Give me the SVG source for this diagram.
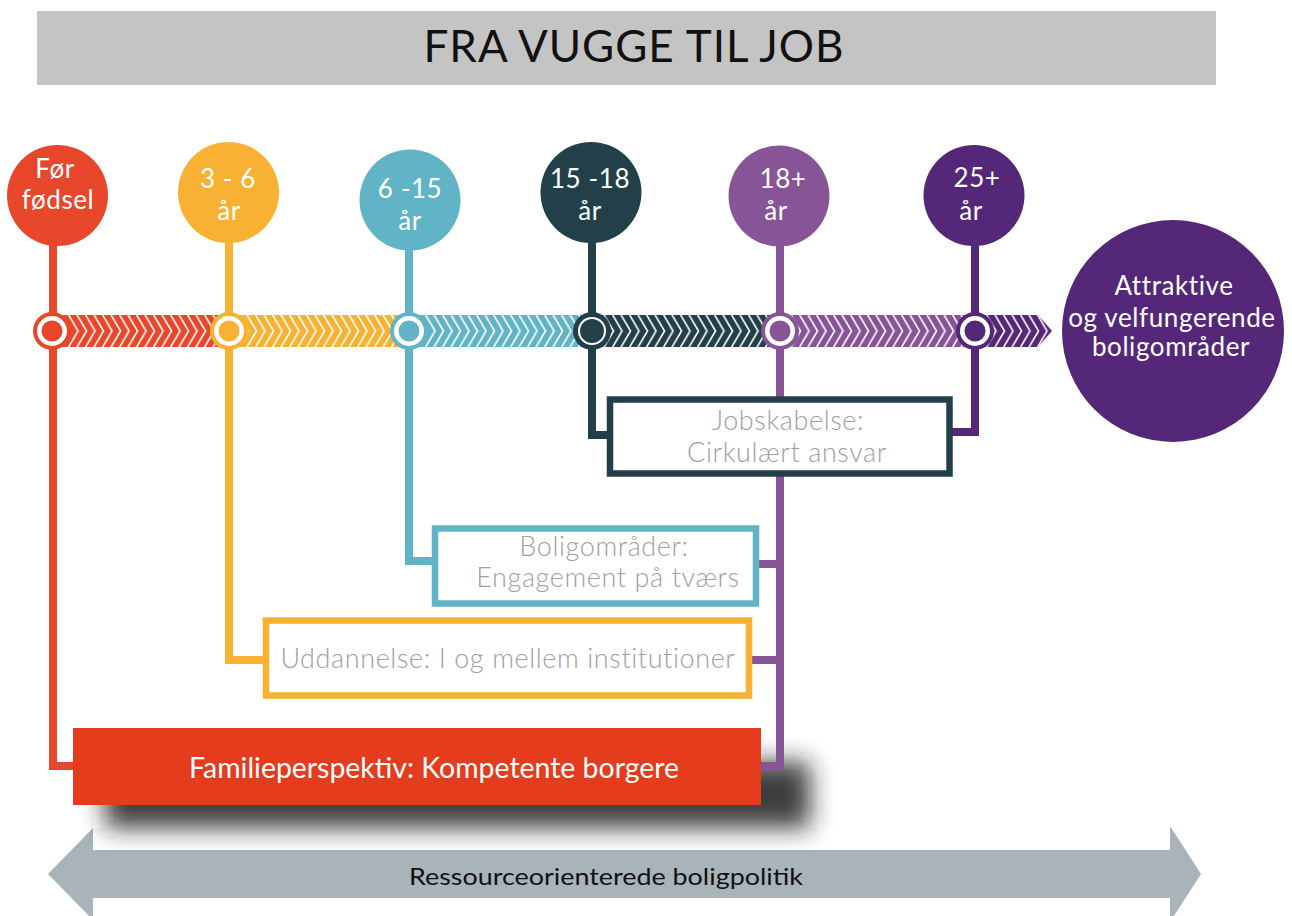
<svg xmlns="http://www.w3.org/2000/svg" width="1292" height="916" viewBox="0 0 1292 916">
  <defs>
    <style>
      .ln { fill: none; stroke-width: 8; stroke-linejoin: miter; stroke-linecap: butt; }
      .ctext { font-family: Lato, "Open Sans", sans-serif; font-size: 26px; letter-spacing: 0.6px; fill: #ffffff; text-anchor: middle; }
      .btext { font-family: Lato, "Open Sans", sans-serif; font-size: 27px; font-weight: 300; letter-spacing: 0.6px; fill: #A0A0A0; text-anchor: middle; }
      .box { fill: #ffffff; stroke-width: 6.5; }
    </style>
    <pattern id="chev" patternUnits="userSpaceOnUse" x="0" y="315" width="8.5" height="32">
      <polyline points="0,-1 10,16 0,33" fill="none" stroke="#ffffff" stroke-width="1.6"/>
      <polyline points="-8.5,-1 1.5,16 -8.5,33" fill="none" stroke="#ffffff" stroke-width="1.6"/>
    </pattern>
    <filter id="blur" x="-20%" y="-60%" width="140%" height="220%">
      <feGaussianBlur stdDeviation="12"/>
    </filter>
  </defs>

  <rect width="1292" height="916" fill="#ffffff"/>

  <!-- Title -->
  <g id="title">
    <rect x="37" y="11" width="1179" height="74" fill="#C4C4C4"/>
    <text x="634" y="62" font-family="Lato, 'Open Sans', sans-serif" font-size="44" letter-spacing="1" fill="#111111" text-anchor="middle">FRA VUGGE TIL JOB</text>
  </g>

  <!-- Bottom arrow -->
  <g id="policy-arrow">
    <polygon points="48,874 93,828 93,850 1170,850 1170,826 1201,874 1170,922 1170,898 93,898 93,920" fill="#A8B4B9"/>
    <text x="606" y="885" font-family="Lato, 'Open Sans', sans-serif" font-size="24" fill="#111111" text-anchor="middle" textLength="394" lengthAdjust="spacingAndGlyphs">Ressourceorienterede boligpolitik</text>
  </g>

  <!-- Shadow of the family box -->
  <g id="familie-shadow">
    <rect x="105" y="762" width="705" height="66" fill="#1a1a1a" opacity="0.85" filter="url(#blur)"/>
  </g>

  <!-- Timeline band -->
  <g id="timeline-band">
    <rect x="55" y="315" width="174" height="32" fill="#E8472B"/>
    <rect x="229" y="315" width="181" height="32" fill="#F8B133"/>
    <rect x="410" y="315" width="182" height="32" fill="#61B4C6"/>
    <rect x="592" y="315" width="188" height="32" fill="#23404A"/>
    <rect x="780" y="315" width="195" height="32" fill="#875597"/>
    <polygon points="975,315 1038,315 1052,331 1038,347 975,347" fill="#542779"/>
    <polygon points="55,315 1038,315 1052,331 1038,347 55,347" fill="url(#chev)"/>
  </g>

  <!-- Connectors -->
  <g id="connectors">
    <path class="ln" stroke="#E8472B" d="M53 240 V766 H76"/>
    <path class="ln" stroke="#F8B133" d="M229 238 V660 H266"/>
    <path class="ln" stroke="#61B4C6" d="M409 245 V561 H436"/>
    <path class="ln" stroke="#23404A" d="M592 238 V435 H610"/>
    <path class="ln" stroke="#875597" d="M780 242 V766 H758"/>
    <path class="ln" stroke="#875597" d="M780 564 H756"/>
    <path class="ln" stroke="#875597" d="M780 660 H749"/>
    <path class="ln" stroke="#542779" d="M975 240 V432 H950"/>
  </g>

  <!-- Rings on the band -->
  <g id="rings">
    <circle cx="52" cy="331" r="19" fill="#E8472B"/><circle cx="52" cy="331" r="15" fill="#fff"/><circle cx="52" cy="331" r="10.5" fill="#E8472B"/>
    <circle cx="229" cy="331" r="19" fill="#F8B133"/><circle cx="229" cy="331" r="15" fill="#fff"/><circle cx="229" cy="331" r="10.5" fill="#F8B133"/>
    <circle cx="409" cy="331" r="19" fill="#61B4C6"/><circle cx="409" cy="331" r="15" fill="#fff"/><circle cx="409" cy="331" r="10.5" fill="#61B4C6"/>
    <circle cx="592" cy="331" r="19" fill="#23404A"/><circle cx="592" cy="331" r="14" fill="#fff"/><circle cx="592" cy="331" r="12" fill="#23404A"/>
    <circle cx="780" cy="331" r="19" fill="#875597"/><circle cx="780" cy="331" r="15" fill="#fff"/><circle cx="780" cy="331" r="10.5" fill="#875597"/>
    <circle cx="975" cy="331" r="19" fill="#542779"/><circle cx="975" cy="331" r="15" fill="#fff"/><circle cx="975" cy="331" r="10.5" fill="#542779"/>
  </g>

  <!-- Age circles -->
  <g id="node-foer-foedsel">
    <circle cx="57.5" cy="195.5" r="50.5" fill="#E8472B"/>
    <text class="ctext" x="55" y="178">Før</text>
    <text class="ctext" x="58" y="209">fødsel</text>
  </g>
  <g id="node-3-6">
    <circle cx="228.5" cy="192.5" r="50.5" fill="#F8B133"/>
    <text class="ctext" x="228" y="188">3 - 6</text>
    <text class="ctext" x="229" y="220">år</text>
  </g>
  <g id="node-6-15">
    <circle cx="410" cy="200" r="50.5" fill="#61B4C6"/>
    <text class="ctext" x="410" y="198">6 -15</text>
    <text class="ctext" x="410" y="230">år</text>
  </g>
  <g id="node-15-18">
    <circle cx="591" cy="192.5" r="50.5" fill="#23404A"/>
    <text class="ctext" x="590" y="188">15 -18</text>
    <text class="ctext" x="590" y="220">år</text>
  </g>
  <g id="node-18plus">
    <circle cx="779" cy="196" r="50.5" fill="#875597"/>
    <text class="ctext" x="783" y="188">18+</text>
    <text class="ctext" x="776" y="220">år</text>
  </g>
  <g id="node-25plus">
    <circle cx="974" cy="195.5" r="50.5" fill="#542779"/>
    <text class="ctext" x="977" y="187">25+</text>
    <text class="ctext" x="971" y="220">år</text>
  </g>
  <g id="node-goal">
    <circle cx="1173" cy="331" r="111" fill="#542779"/>
    <text class="ctext" x="1174" y="295">Attraktive</text>
    <text class="ctext" x="1172" y="327">og velfungerende</text>
    <text class="ctext" x="1171" y="356">boligområder</text>
  </g>

  <!-- Boxes -->
  <g id="node-jobskabelse">
    <rect class="box" x="610" y="399.5" width="339.5" height="74" stroke="#23404A"/>
    <text class="btext" x="788" y="430">Jobskabelse:</text>
    <text class="btext" x="787" y="462">Cirkulært ansvar</text>
  </g>
  <g id="node-boligomraader">
    <rect class="box" x="435" y="528.5" width="321" height="75" stroke="#61B4C6"/>
    <text class="btext" x="604" y="556">Boligområder:</text>
    <text class="btext" x="608" y="587">Engagement på tværs</text>
  </g>
  <g id="node-uddannelse">
    <rect class="box" x="266" y="620.5" width="483" height="75" stroke="#F8B133"/>
    <text class="btext" x="508" y="668">Uddannelse: I og mellem institutioner</text>
  </g>
  <g id="node-familie">
    <rect x="73" y="728" width="688" height="77" fill="#E53C1E"/>
    <text x="434" y="778" font-family="Lato, 'Open Sans', sans-serif" font-size="28" fill="#ffffff" text-anchor="middle" textLength="490" lengthAdjust="spacingAndGlyphs">Familieperspektiv: Kompetente borgere</text>
  </g>
</svg>
